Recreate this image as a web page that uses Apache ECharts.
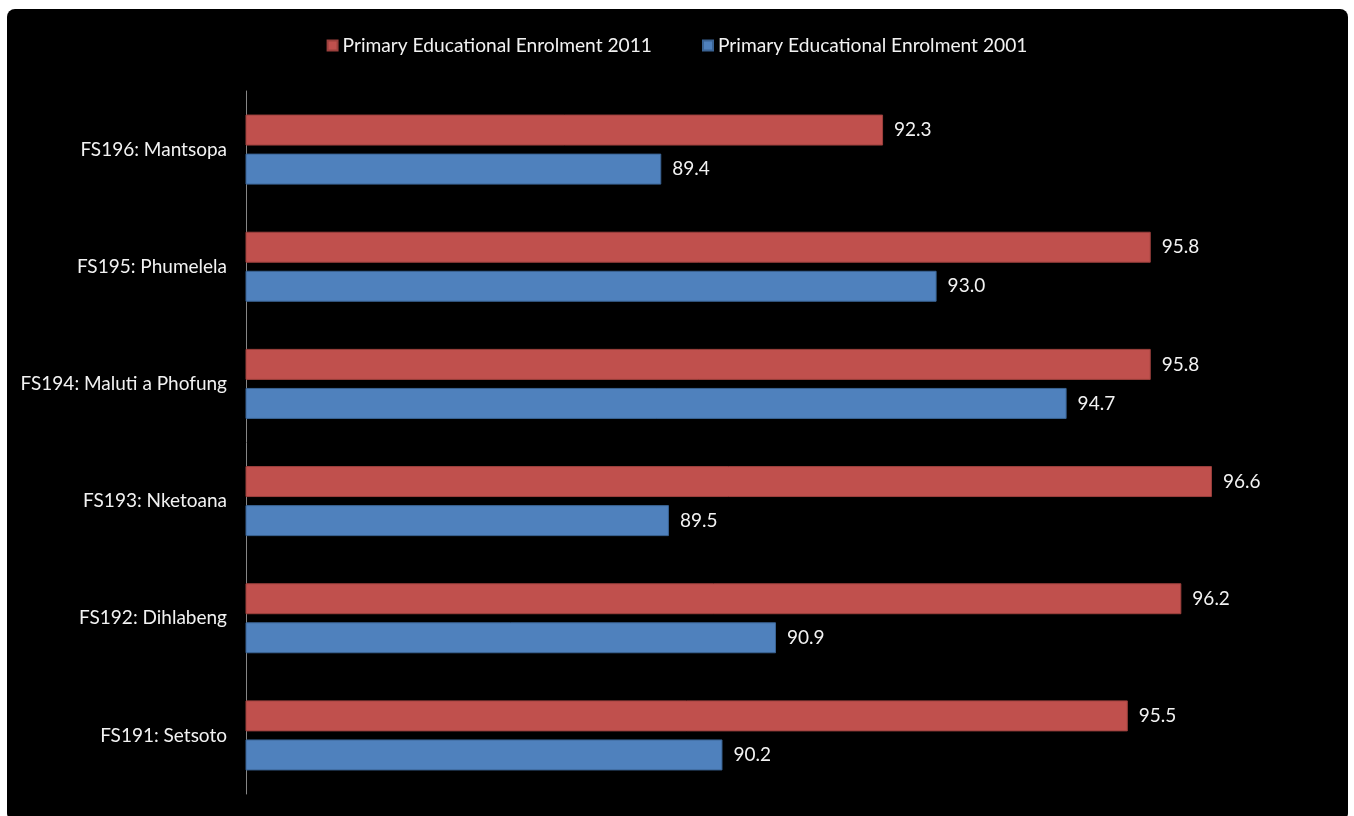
<!DOCTYPE html>
<html>
<head>
<meta charset="utf-8">
<script src="https://cdn.jsdelivr.net/npm/echarts@6/dist/echarts.min.js"></script>
<style>
html,body{margin:0;padding:0;background:#fff;}
#chart{width:1354px;height:816px;}
</style>
</head>
<body>
<div id="chart"></div>
<script>
const categories = ["FS196: Mantsopa","FS195: Phumelela","FS194: Maluti a Phofung","FS193: Nketoana","FS192: Dihlabeng","FS191: Setsoto"];
const enrol2011 = [92.3, 95.8, 95.8, 96.6, 96.2, 95.5];
const enrol2001 = [89.4, 93.0, 94.7, 89.5, 90.9, 90.2];
const seriesNames = ["Primary Educational Enrolment 2011","Primary Educational Enrolment 2001"];

const FONT = "Lato, sans-serif";
const chart = echarts.init(document.getElementById('chart'));
const labelStyle = {show:true, position:'right', distance:11, color:'#f2f2f2', fontSize:19, fontFamily:FONT, formatter: p => p.value.toFixed(1)};
chart.setOption({
  backgroundColor:'#ffffff',
  animation:false,
  graphic:[{type:'rect', z:-10, silent:true, shape:{x:7,y:9,width:1341,height:812,r:8}, style:{fill:'#000000'}}],
  legend:{
    top:31, left:'center', itemWidth:10, itemHeight:10, itemGap:50, icon:'rect',
    textStyle:{color:'#f2f2f2', fontSize:19.2, fontFamily:FONT, padding:[0,0,0,0]},
    data:seriesNames
  },
  grid:{left:246, right:35, top:91, bottom:22, containLabel:false},
  xAxis:{type:'value', min:83.97, max:98, show:false, splitLine:{show:false}},
  yAxis:{type:'category', data:categories, inverse:true,
    axisLine:{show:true, lineStyle:{color:'#868686', width:1}},
    axisTick:{show:false},
    axisLabel:{color:'#f2f2f2', fontSize:19, fontFamily:FONT, margin:19}
  },
  series:[
    {name:seriesNames[0], type:'bar', data:enrol2011, barWidth:31, barGap:'26%',
      itemStyle:{color:'#C0504D', borderColor:'#9C403D', borderWidth:1}, label:labelStyle},
    {name:seriesNames[1], type:'bar', data:enrol2001, barWidth:31, barGap:'26%',
      itemStyle:{color:'#4F81BD', borderColor:'#3A6393', borderWidth:1}, label:labelStyle}
  ]
});
</script>
</body>
</html>
